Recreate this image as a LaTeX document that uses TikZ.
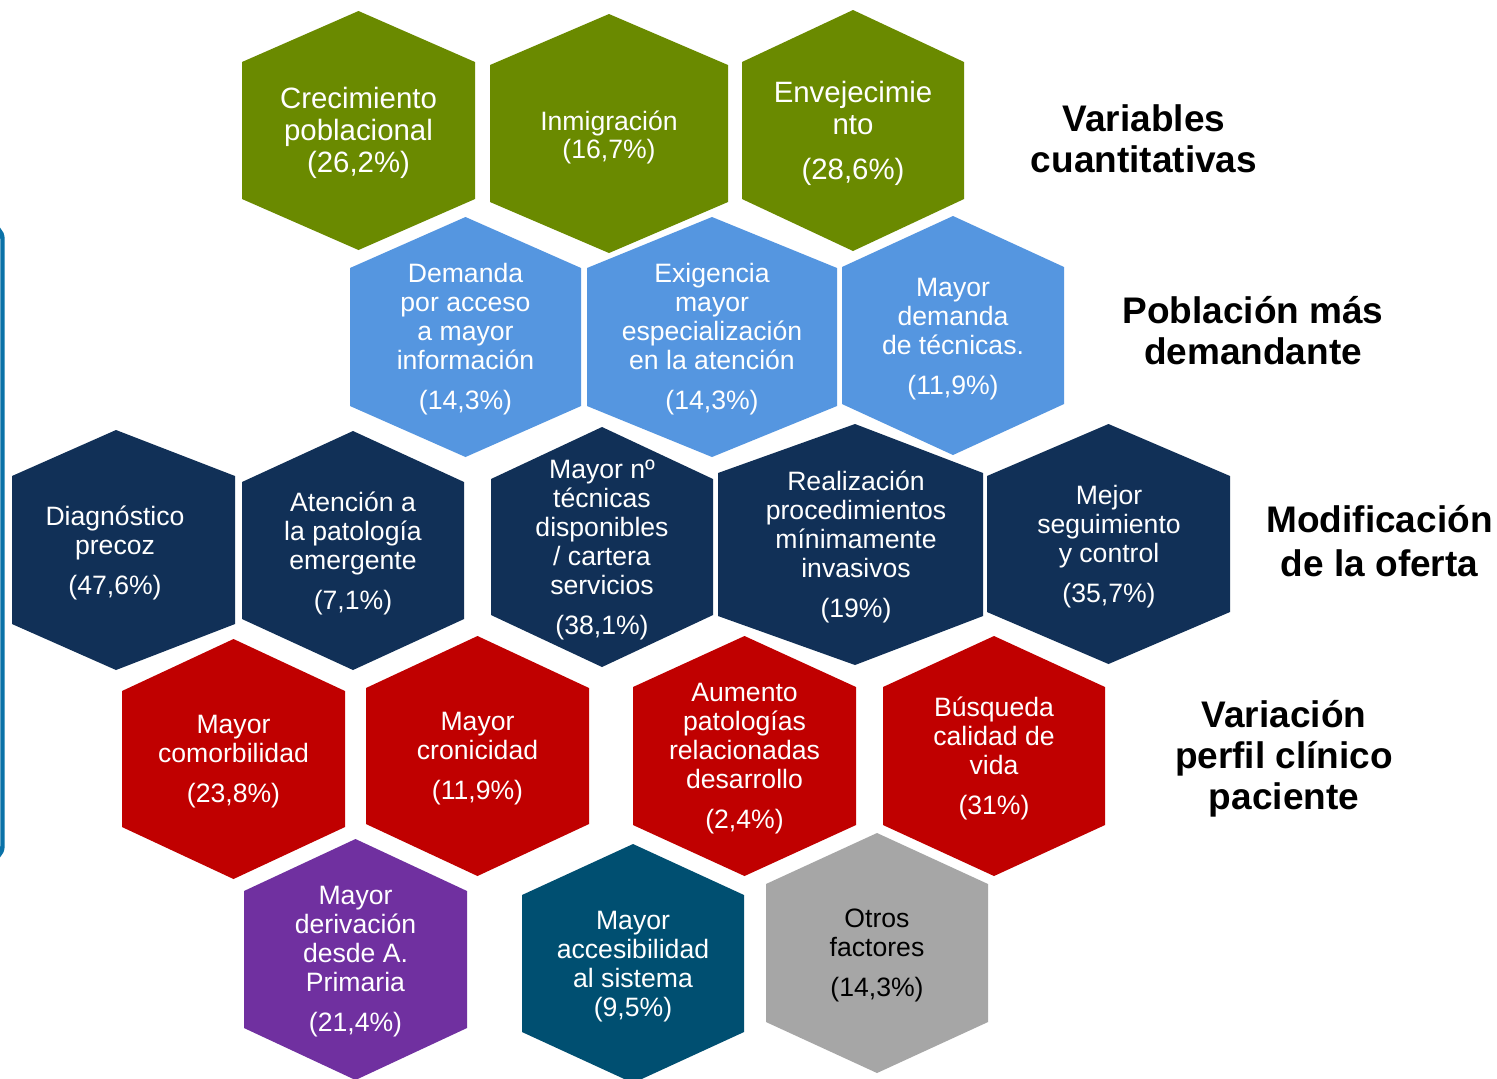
\documentclass[tikz,border=0pt]{standalone}
\usepackage{fontspec}
\setmainfont{Liberation Sans}

\definecolor{cellgreen}{HTML}{6A8A00}
\definecolor{celllight}{HTML}{5596E0}
\definecolor{cellnavy}{HTML}{113057}
\definecolor{cellred}{HTML}{C00000}
\definecolor{cellpurple}{HTML}{7030A0}
\definecolor{cellteal}{HTML}{004F71}
\definecolor{cellgray}{HTML}{A6A6A6}
\definecolor{bracketblue}{HTML}{0A72A8}

% hexagon with vertical sides: colour, left, right, top, bottom, corner drop, apex x
\newcommand\hexcellat[7]{%
  \fill[#1] (#7,#4) -- (#3,{#4+#6}) -- (#3,{#5-#6})
    -- (#7,#5) -- (#2,{#5-#6}) -- (#2,{#4+#6}) -- cycle;}
% same, apex centred between the sides
\newcommand\hexcell[6]{\hexcellat{#1}{#2}{#3}{#4}{#5}{#6}{{(#2+#3)/2}}}

\tikzset{
  celltext/.style={text=white, align=center, inner sep=0pt,
    font=\fontsize{13.3}{14.5}\selectfont},
  celltextbig/.style={celltext, font=\fontsize{14.7}{16}\selectfont},
  rowlabel/.style={text=black, align=center, inner sep=0pt,
    font=\fontsize{18.5}{20.5}\selectfont\bfseries},
  bracketline/.style={draw=bracketblue, line width=2.2pt, rounded corners=7pt},
}

\begin{document}
\begin{tikzpicture}[x=0.5pt, y=-0.5pt]
\clip (0,0) rectangle (1497,1078);
\fill[white] (0,0) rectangle (1497,1078);

% side bracket
\coordinate (brtop) at (-40,225);
\coordinate (brbot) at (-40,860);
\draw[bracketline] (brtop) -- (2.5,225) -- (2.5,860) -- (brbot);

% row 1: variables cuantitativas
\hexcell{cellgreen}{242}{475}{11}{250}{51}
\hexcell{cellgreen}{490}{728}{14}{253}{51}
\hexcell{cellgreen}{742}{964}{10}{251}{52}
\node[celltextbig] (crec) at (358.5,133) {Crecimiento\\poblacional\\(26,2\%)};
\node[celltext, font=\fontsize{13.3}{14}\selectfont] (inmi) at (609,137) {Inmigración\\(16,7\%)};
\node[celltextbig] (enve) at (853,133) {Envejecimie\\nto\\[6.5pt](28,6\%)};

% row 2: poblacion mas demandante
\hexcell{celllight}{350}{581}{217}{457}{51}
\hexcell{celllight}{587}{837}{217}{457}{51}
\hexcell{celllight}{842}{1064}{216}{455}{51}
\node[celltext] (dema) at (465.5,339.5) {Demanda\\por acceso\\a mayor\\información\\[5.5pt](14,3\%)};
\node[celltext] (exig) at (712,339.5) {Exigencia\\mayor\\especialización\\en la atención\\[5.5pt](14,3\%)};
\node[celltext] (tecn) at (953,339) {Mayor\\demanda\\de técnicas.\\[5.5pt](11,9\%)};

% row 3: modificacion de la oferta
\hexcellat{cellnavy}{12}{235}{430}{670}{46}{116}
\hexcell{cellnavy}{242}{464}{431}{670}{51}
\hexcell{cellnavy}{491}{713}{427}{667}{52}
\hexcellat{cellnavy}{718}{983}{424}{665}{49}{855}
\hexcell{cellnavy}{987}{1230}{424}{664}{52}
\node[celltext] (diag) at (115,553) {Diagnóstico\\precoz\\[5.5pt](47,6\%)};
\node[celltext] (aten) at (353,553) {Atención a\\la patología\\emergente\\[5.5pt](7,1\%)};
\node[celltext] (ntec) at (602,550) {Mayor nº\\técnicas\\disponibles\\/ cartera\\servicios\\[5.5pt](38,1\%)};
\node[celltext] (proc) at (856,546.5) {Realización\\procedimientos\\mínimamente\\invasivos\\[5.5pt](19\%)};
\node[celltext] (segu) at (1109,546.5) {Mejor\\seguimiento\\y control\\[5.5pt](35,7\%)};

% row 4: variacion perfil clinico
\hexcell{cellred}{122}{345}{639}{879}{52}
\hexcell{cellred}{366}{589}{636}{876}{52}
\hexcell{cellred}{633}{856}{636}{876}{51}
\hexcell{cellred}{883}{1105}{636}{876}{51}
\node[celltext] (como) at (233.5,761.5) {Mayor\\comorbilidad\\[5.5pt](23,8\%)};
\node[celltext] (cron) at (477.5,758.5) {Mayor\\cronicidad\\[5.5pt](11,9\%)};
\node[celltext] (aume) at (744.5,758.5) {Aumento\\patologías\\relacionadas\\desarrollo\\[5.5pt](2,4\%)};
\node[celltext] (busq) at (994,758.5) {Búsqueda\\calidad de\\vida\\[5.5pt](31\%)};

% row 5: other factors
\hexcell{cellpurple}{244}{467}{839}{1080}{52}
\hexcell{cellteal}{522}{744}{844}{1083}{51}
\hexcell{cellgray}{766}{988}{833}{1073}{51}
\node[celltext] (deri) at (355.5,961.5) {Mayor\\derivación\\desde A.\\Primaria\\[5.5pt](21,4\%)};
\node[celltext] (acce) at (633,966.5) {Mayor\\accesibilidad\\al sistema\\(9,5\%)};
\node[celltext, text=black] (otro) at (877,955.5) {Otros\\factores\\[5.5pt](14,3\%)};

% row labels
\node[rowlabel] (lab1) at (1144,138.5) {Variables\\cuantitativas};
\node[rowlabel] (lab2) at (1253,330.5) {Población más\\demandante};
\node[rowlabel, font=\fontsize{18.5}{22}\selectfont\bfseries] (lab3) at (1379.5,541) {Modificación\\de la oferta};
\node[rowlabel] (lab4) at (1284,759) {Variación\\perfil clínico\\paciente};
\end{tikzpicture}
\end{document}
